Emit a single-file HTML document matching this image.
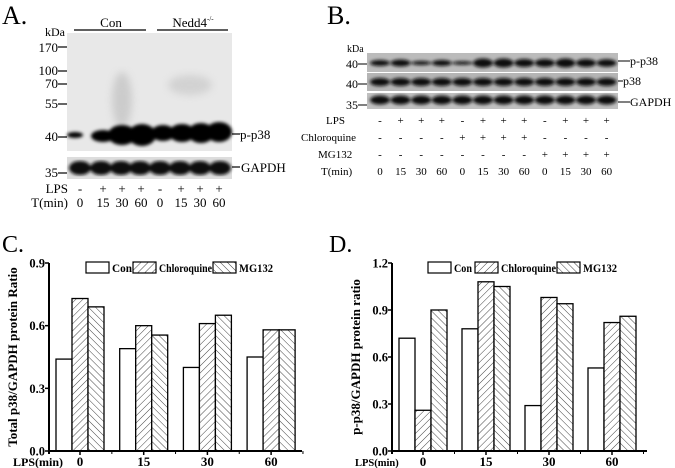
<!DOCTYPE html>
<html><head><meta charset="utf-8"><style>
html,body{margin:0;padding:0;background:#fff}
svg{display:block}
text{font-family:"Liberation Serif",serif;fill:#000}
.b{font-weight:bold}
</style></head><body>
<svg id="fig" width="675" height="468" viewBox="0 0 675 468">
<defs>
<pattern id="hatchC" patternUnits="userSpaceOnUse" width="5" height="5" patternTransform="rotate(45)"><rect width="5" height="5" fill="#fff"/><line x1="0" y1="0" x2="0" y2="5" stroke="#444" stroke-width="1"/></pattern>
<pattern id="hatchM" patternUnits="userSpaceOnUse" width="5" height="5" patternTransform="rotate(-45)"><rect width="5" height="5" fill="#fff"/><line x1="0" y1="0" x2="0" y2="5" stroke="#444" stroke-width="1"/></pattern>
<filter id="blur1"><feGaussianBlur stdDeviation="1.6"/></filter>
<filter id="blur3"><feGaussianBlur stdDeviation="4"/></filter>
</defs>

<!-- Panel A -->
<g>
<text x="2" y="24" font-size="26">A.</text>
<text x="45" y="36" font-size="12">kDa</text>
<line x1="74" y1="30" x2="146" y2="30" stroke="#000" stroke-width="1.3"/>
<line x1="157" y1="30" x2="228" y2="30" stroke="#000" stroke-width="1.3"/>
<text x="111" y="27" font-size="13" text-anchor="middle">Con</text>
<text x="193" y="27" font-size="13" text-anchor="middle">Nedd4<tspan font-size="7" dy="-6">-/-</tspan></text>
<rect x="67" y="33" width="165" height="118" fill="#e8e8e8"/>
<g filter="url(#blur3)" opacity="0.35"><ellipse cx="122" cy="100" rx="10" ry="28" fill="#999"/><ellipse cx="190" cy="85" rx="22" ry="10" fill="#aaa"/></g>
<g filter="url(#blur1)" fill="#000">
<ellipse cx="75" cy="135" rx="8" ry="3"/>
<ellipse cx="103" cy="136" rx="12" ry="6"/>
<ellipse cx="122" cy="135" rx="14" ry="10"/>
<ellipse cx="142" cy="135" rx="14" ry="11"/>
<ellipse cx="163" cy="133" rx="12" ry="8"/>
<ellipse cx="182" cy="133" rx="13" ry="9"/>
<ellipse cx="201" cy="133" rx="13" ry="10"/>
<ellipse cx="219" cy="132" rx="13" ry="10"/>
</g>
<rect x="67" y="157" width="165" height="22" fill="#ddd"/>
<g filter="url(#blur1)" fill="#111">
<ellipse cx="80" cy="168" rx="11" ry="7"/><ellipse cx="101" cy="168" rx="11" ry="7"/>
<ellipse cx="121" cy="168" rx="11" ry="7"/><ellipse cx="140" cy="168" rx="11" ry="7"/>
<ellipse cx="160" cy="168" rx="11" ry="7"/><ellipse cx="180" cy="168" rx="11" ry="7"/>
<ellipse cx="200" cy="168" rx="11" ry="7"/><ellipse cx="220" cy="168" rx="11" ry="7"/>
</g>
<g font-size="13" text-anchor="end">
<text x="58" y="52">170</text><text x="58" y="75">100</text><text x="58" y="88">70</text>
<text x="58" y="108">55</text><text x="58" y="141">40</text><text x="58" y="177">35</text>
</g>
<g stroke="#000" stroke-width="1.2">
<line x1="58" y1="47" x2="67" y2="47"/><line x1="58" y1="71" x2="67" y2="71"/><line x1="58" y1="84" x2="67" y2="84"/>
<line x1="58" y1="104" x2="67" y2="104"/><line x1="58" y1="137" x2="67" y2="137"/><line x1="58" y1="173" x2="67" y2="173"/>
<line x1="232" y1="134" x2="240" y2="134"/><line x1="232" y1="167" x2="240" y2="167"/>
</g>
<text x="240" y="139" font-size="13">p-p38</text>
<text x="241" y="172" font-size="13">GAPDH</text>
<text x="68" y="193" font-size="13" text-anchor="end">LPS</text>
<text x="68" y="207" font-size="13" text-anchor="end">T(min)</text>
<g font-size="13" text-anchor="middle">
<text x="80" y="193">-</text><text x="103" y="193">+</text><text x="122" y="193">+</text><text x="141" y="193">+</text>
<text x="160" y="193">-</text><text x="181" y="193">+</text><text x="200" y="193">+</text><text x="219" y="193">+</text>
<text x="80" y="207">0</text><text x="103" y="207">15</text><text x="122" y="207">30</text><text x="141" y="207">60</text>
<text x="160" y="207">0</text><text x="181" y="207">15</text><text x="200" y="207">30</text><text x="219" y="207">60</text>
</g>
</g>

<!-- Panel B -->
<g>
<text x="327" y="24" font-size="26">B.</text>
<text x="347" y="52" font-size="10">kDa</text>
<rect x="367" y="53" width="251" height="19" fill="#bbb"/>
<rect x="367" y="73" width="251" height="18" fill="#b5b5b5"/>
<rect x="367" y="93" width="251" height="16" fill="#c0c0c0"/>
<g filter="url(#blur1)" fill="#111" id="bBands"></g>
<g font-size="12" text-anchor="end"><text x="358" y="68">40</text><text x="358" y="88">40</text><text x="358" y="109">35</text></g>
<g stroke="#000" stroke-width="1"><line x1="358" y1="64" x2="367" y2="64"/><line x1="358" y1="84" x2="367" y2="84"/><line x1="358" y1="105" x2="367" y2="105"/>
<line x1="618" y1="61" x2="630" y2="61"/><line x1="618" y1="81" x2="623" y2="81"/><line x1="618" y1="102" x2="630" y2="102"/></g>
<text x="630" y="65" font-size="12">p-p38</text><text x="623" y="85" font-size="12">p38</text><text x="630" y="106" font-size="12">GAPDH</text>
<g font-size="11" text-anchor="start"><text x="326" y="124">LPS</text><text x="301" y="141">Chloroquine</text><text x="318" y="158">MG132</text><text x="321" y="175">T(min)</text></g>
<g font-size="11" text-anchor="middle" id="bLanes"></g>
</g>

<!-- Panel C -->
<g>
<text x="2" y="252" font-size="24">C.</text>
<g id="chartC"></g>
</g>
<!-- Panel D -->
<g>
<text x="329" y="252" font-size="24">D.</text>
<g id="chartD"></g>
</g>
</svg>
<script>
const NS='http://www.w3.org/2000/svg';
function mk(p,tag,at,txt){const e=document.createElementNS(NS,tag);for(const k in at)e.setAttribute(k,at[k]);if(txt!=null)e.textContent=txt;p.appendChild(e);return e;}

// Panel B lane labels
const bLPS=['-','+','+','+','-','+','+','+','-','+','+','+'];
const bChl=['-','-','-','-','+','+','+','+','-','-','-','-'];
const bMG=['-','-','-','-','-','-','-','-','+','+','+','+'];
const bT=['0','15','30','60','0','15','30','60','0','15','30','60'];
const bPP=[3,3.5,2,3,1.8,4.5,4.5,4,4,4.5,4,3.8];
const bl=document.getElementById('bLanes');
const bb=document.getElementById('bBands');
bT.forEach((t,i)=>{const x=380+i*20.6;
 mk(bb,'ellipse',{cx:x,cy:63,rx:10,ry:bPP[i]});
 mk(bb,'ellipse',{cx:x,cy:82,rx:10,ry:4});
 mk(bb,'ellipse',{cx:x,cy:100,rx:10,ry:4.5});
 mk(bl,'text',{x:x,y:124},bLPS[i]);mk(bl,'text',{x:x,y:141},bChl[i]);mk(bl,'text',{x:x,y:158},bMG[i]);mk(bl,'text',{x:x,y:175},t);});

// Chart data
const categories=['0','15','30','60'];
const seriesNames=['Con','Chloroquine','MG132'];
const cCon=[0.44,0.49,0.40,0.45];
const cChl=[0.73,0.60,0.61,0.58];
const cMG=[0.69,0.555,0.65,0.58];
const cTicks=[0,0.3,0.6,0.9];
const dCon=[0.72,0.78,0.29,0.53];
const dChl=[0.26,1.08,0.98,0.82];
const dMG=[0.90,1.05,0.94,0.86];
const dTicks=[0,0.3,0.6,0.9,1.2];

function chart(gid,cfg){
 const g=document.getElementById(gid);
 const y=v=>cfg.y0-(v/cfg.ymax)*(cfg.y0-cfg.yTop);
 const xc=i=>cfg.x0+cfg.first+i*cfg.step;
 const fills=['#fff','url(#hatchC)','url(#hatchM)'];
 const series=[cfg.s1,cfg.s2,cfg.s3];
 series.forEach((s,k)=>s.forEach((v,i)=>{
  const r=mk(g,'rect',{x:xc(i)-24+k*16,y:y(v),width:16,height:cfg.y0-y(v),fill:fills[k],stroke:'#000','stroke-width':1.3});
  
  
 }));
 mk(g,'line',{x1:cfg.x0,y1:cfg.yTop,x2:cfg.x0,y2:cfg.y0+3,stroke:'#000','stroke-width':2});
 mk(g,'line',{x1:cfg.x0,y1:cfg.y0,x2:cfg.xEnd,y2:cfg.y0,stroke:'#000','stroke-width':2});
 cfg.ticks.forEach(t=>{const yy=y(t);
  mk(g,'line',{x1:cfg.x0-4,y1:yy,x2:cfg.x0,y2:yy,stroke:'#000','stroke-width':1.5});
  const tx=mk(g,'text',{x:cfg.x0-4,y:yy+4.5,'font-size':12.5,'text-anchor':'end',class:'b'},t.toFixed(1));
  
  
 });
 for(let i=0;i<categories.length;i++){
  mk(g,'line',{x1:xc(i),y1:cfg.y0,x2:xc(i),y2:cfg.y0+4,stroke:'#000','stroke-width':1.5});
  mk(g,'line',{x1:xc(i)+cfg.step/2,y1:cfg.y0,x2:xc(i)+cfg.step/2,y2:cfg.y0+3,stroke:'#000','stroke-width':1});
  const tx=mk(g,'text',{x:xc(i),y:cfg.y0+15,'font-size':13,'text-anchor':'middle',class:'b'},categories[i]);
  
  
 }
 const xl=mk(g,'text',{x:cfg.lpsX,y:cfg.y0+15,'font-size':cfg.lpsF,class:'b'},'LPS(min)');
 
 
 const yl=mk(g,'text',{x:0,y:0,'font-size':13,'text-anchor':'middle',class:'b',transform:`translate(${cfg.ylX},${(cfg.y0+cfg.yTop)/2}) rotate(-90)`},cfg.ytitle);
 
 
 cfg.leg.forEach((lx,k)=>{
  const b=mk(g,'rect',{x:lx,y:cfg.yTop-1,width:23,height:11,fill:fills[k],stroke:'#000','stroke-width':1.2});
  
  
  const t=mk(g,'text',{x:lx+26,y:cfg.yTop+9,'font-size':11.5,class:'b',textLength:cfg.legW[k],lengthAdjust:'spacingAndGlyphs'},seriesNames[k]);
  
  
 });
}
chart('chartC',{x0:49,xEnd:302,y0:451,yTop:263,ymax:0.9,first:31,step:63.7,s1:cCon,s2:cChl,s3:cMG,ticks:cTicks,lpsX:13,lpsF:12,ylX:17,ytitle:'Total p38/GAPDH protein Ratio',leg:[86,133,213],legW:[20,53,34]});
chart('chartD',{x0:392,xEnd:647,y0:451,yTop:263,ymax:1.2,first:31,step:63,s1:dCon,s2:dChl,s3:dMG,ticks:dTicks,lpsX:355,lpsF:10.5,ylX:360,ytitle:'p-p38/GAPDH protein ratio',leg:[428,475,557],legW:[18,55,34]});
</script>
</body></html>
